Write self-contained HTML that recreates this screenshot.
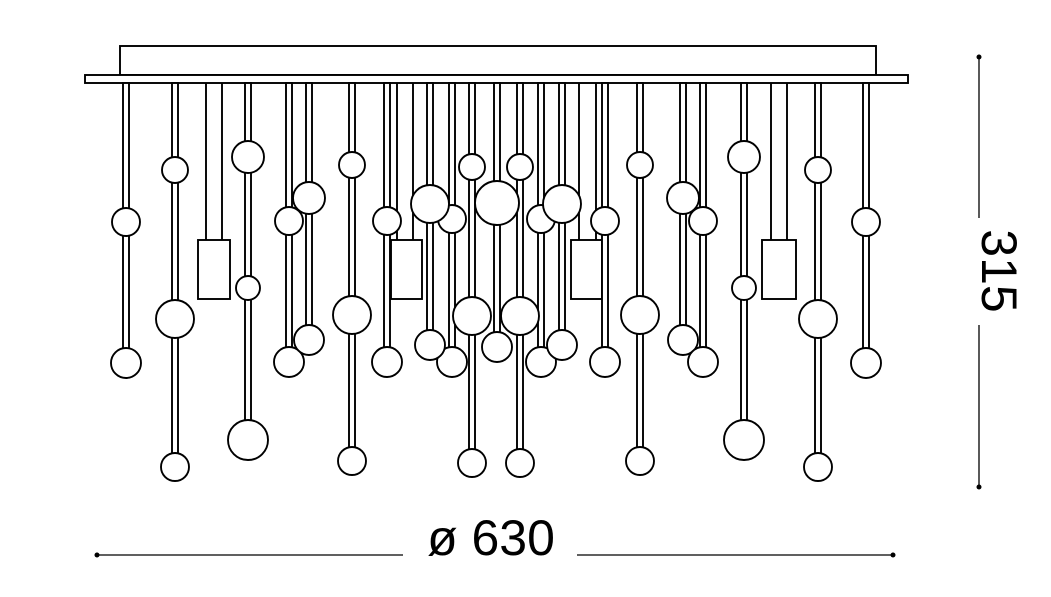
<!DOCTYPE html>
<html><head><meta charset="utf-8"><style>html,body{margin:0;padding:0;background:#fff}svg{display:block}</style></head>
<body>
<svg width="1051" height="597" viewBox="0 0 1051 597" xmlns="http://www.w3.org/2000/svg" font-family="Liberation Sans, sans-serif">
<g fill="#fff" stroke="#000" stroke-width="1.9">
<rect x="120" y="46" width="756" height="29"/>
<rect x="85" y="75" width="823" height="8"/>
<line x1="206" y1="83" x2="206" y2="240"/><line x1="222" y1="83" x2="222" y2="240"/>
<rect x="198" y="240" width="32" height="59"/>
<line x1="397" y1="83" x2="397" y2="240"/><line x1="413" y1="83" x2="413" y2="240"/>
<rect x="391" y="240" width="31" height="59"/>
<line x1="579" y1="83" x2="579" y2="240"/><line x1="596" y1="83" x2="596" y2="240"/>
<rect x="571" y="240" width="31" height="59"/>
<line x1="771" y1="83" x2="771" y2="240"/><line x1="787" y1="83" x2="787" y2="240"/>
<rect x="762" y="240" width="34" height="59"/>
<rect x="123" y="83" width="6" height="280"/>
<rect x="172" y="83" width="6" height="384"/>
<rect x="245" y="83" width="6" height="357"/>
<rect x="286" y="83" width="6" height="279"/>
<rect x="306" y="83" width="6" height="257"/>
<rect x="349" y="83" width="6" height="378"/>
<rect x="384" y="83" width="6" height="279"/>
<rect x="427" y="83" width="6" height="262"/>
<rect x="449" y="83" width="6" height="279"/>
<rect x="469" y="83" width="6" height="380"/>
<rect x="494" y="83" width="6" height="264"/>
<rect x="517" y="83" width="6" height="380"/>
<rect x="538" y="83" width="6" height="279"/>
<rect x="559" y="83" width="6" height="262"/>
<rect x="602" y="83" width="6" height="279"/>
<rect x="637" y="83" width="6" height="378"/>
<rect x="680" y="83" width="6" height="257"/>
<rect x="700" y="83" width="6" height="279"/>
<rect x="741" y="83" width="6" height="357"/>
<rect x="815" y="83" width="6" height="384"/>
<rect x="863" y="83" width="6" height="280"/>
<circle cx="126" cy="222" r="14"/><circle cx="126" cy="363" r="15"/>
<circle cx="175" cy="170" r="13"/><circle cx="175" cy="319" r="19"/><circle cx="175" cy="467" r="14"/>
<circle cx="248" cy="157" r="16"/><circle cx="248" cy="288" r="12"/><circle cx="248" cy="440" r="20"/>
<circle cx="289" cy="221" r="14"/><circle cx="289" cy="362" r="15"/>
<circle cx="309" cy="198" r="16"/><circle cx="309" cy="340" r="15"/>
<circle cx="352" cy="165" r="13"/><circle cx="352" cy="315" r="19"/><circle cx="352" cy="461" r="14"/>
<circle cx="387" cy="221" r="14"/><circle cx="387" cy="362" r="15"/>
<circle cx="452" cy="219" r="14"/><circle cx="452" cy="362" r="15"/>
<circle cx="430" cy="204" r="19"/><circle cx="430" cy="345" r="15"/>
<circle cx="472" cy="167" r="13"/><circle cx="472" cy="316" r="19"/><circle cx="472" cy="463" r="14"/>
<circle cx="541" cy="219" r="14"/><circle cx="541" cy="362" r="15"/>
<circle cx="497" cy="203" r="22"/><circle cx="497" cy="347" r="15"/>
<circle cx="520" cy="167" r="13"/><circle cx="520" cy="316" r="19"/><circle cx="520" cy="463" r="14"/>
<circle cx="562" cy="204" r="19"/><circle cx="562" cy="345" r="15"/>
<circle cx="605" cy="221" r="14"/><circle cx="605" cy="362" r="15"/>
<circle cx="640" cy="165" r="13"/><circle cx="640" cy="315" r="19"/><circle cx="640" cy="461" r="14"/>
<circle cx="683" cy="198" r="16"/><circle cx="683" cy="340" r="15"/>
<circle cx="703" cy="221" r="14"/><circle cx="703" cy="362" r="15"/>
<circle cx="744" cy="157" r="16"/><circle cx="744" cy="288" r="12"/><circle cx="744" cy="440" r="20"/>
<circle cx="818" cy="170" r="13"/><circle cx="818" cy="319" r="19"/><circle cx="818" cy="467" r="14"/>
<circle cx="866" cy="222" r="14"/><circle cx="866" cy="363" r="15"/>
</g>
<g stroke="#000" stroke-width="1.3">
<line x1="979" y1="57" x2="979" y2="218"/><line x1="979" y1="325" x2="979" y2="487"/>
<line x1="97" y1="555" x2="403" y2="555"/><line x1="577" y1="555" x2="893" y2="555"/>
</g>
<g fill="#000"><circle cx="979" cy="57" r="2.5"/><circle cx="979" cy="487" r="2.5"/>
<circle cx="97" cy="555" r="2.5"/><circle cx="893" cy="555" r="2.5"/></g>
<text x="491" y="555" font-size="50" text-anchor="middle">ø 630</text>
<text transform="translate(982,271) rotate(90)" font-size="50" text-anchor="middle">315</text>
</svg>
</body></html>
